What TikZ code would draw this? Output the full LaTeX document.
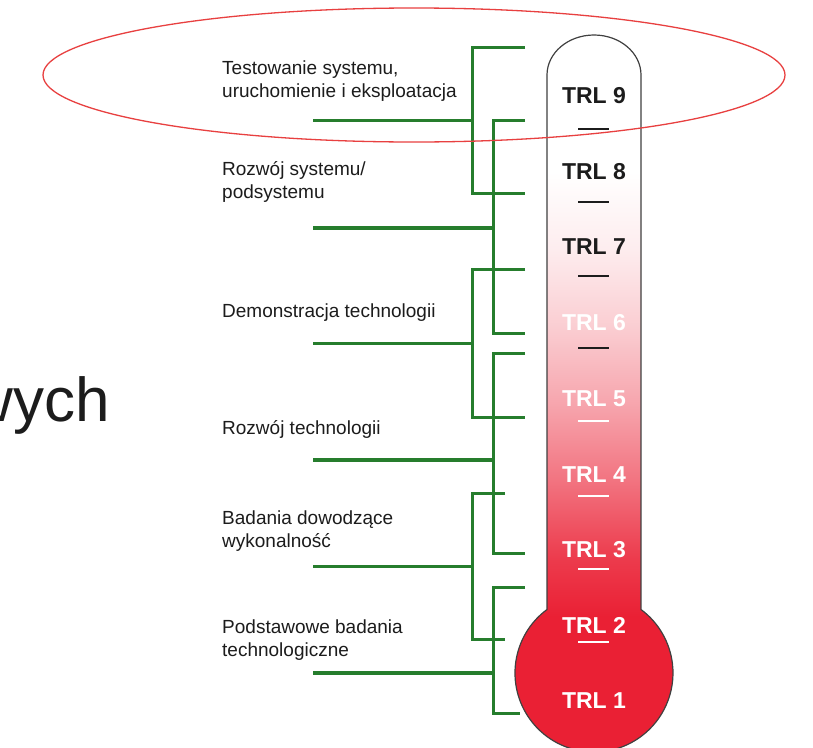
\documentclass[tikz,border=0pt]{standalone}
\usepackage{fontspec}
\setmainfont{Liberation Sans}
\usepackage{tikz}
\usetikzlibrary{calc}
\definecolor{trlgreen}{RGB}{38,125,45}
\definecolor{trlred}{RGB}{234,32,52}
\definecolor{ovalred}{RGB}{232,64,64}
\definecolor{ink}{RGB}{28,28,28}
\colorlet{redA}{trlred!88!white}
\colorlet{redB}{trlred!62!white}
\colorlet{redC}{trlred!40!white}
\colorlet{redD}{trlred!22!white}
\colorlet{redE}{trlred!8!white}
\pgfdeclareverticalshading{tubefill}{100bp}{color(0bp)=(trlred); color(35bp)=(trlred); color(39bp)=(redA);
  color(44.5bp)=(redB); color(49.7bp)=(redC); color(55bp)=(redD); color(60.4bp)=(redE); color(65.6bp)=(white); color(100bp)=(white)}
\newcommand\lblfont{\fontsize{19}{22.5}\selectfont}
\newcommand\trlfont{\fontsize{23}{27}\selectfont\bfseries}
\tikzset{
  lbl/.style={font=\lblfont,text=ink,align=left,anchor=base west,inner sep=0pt},
  trl/.style={font=\trlfont,anchor=base,inner sep=0pt},
  brk/.style={draw=trlgreen,line width=3pt},
  tickmark/.style={line width=2.5pt},
  oval/.style={draw=ovalred,line width=1.3pt},
}

\begin{document}
\begin{tikzpicture}[x=1pt,y=-1pt]
  \useasboundingbox (0,0) rectangle (813,747);
  \clip (0,0) rectangle (813,747);
  \fill[white] (0,0) rectangle (813,747);
  % cut-off slide title
  \node[font=\fontsize{62}{70}\selectfont,text=ink,anchor=base east,inner sep=0pt] (title) at (110,421) {wych};
  % thermometer
  \shade[shading=tubefill,draw=black!75,line width=1.2pt]
    (547,75) -- (547,609.5) arc[start angle=233.5,end angle=-53.5,radius=79] -- (641,75)
    arc[start angle=0,end angle=-180,x radius=47,y radius=40] -- cycle;
  \foreach \i/\y/\c in {9/103/ink, 8/179/ink, 7/254/ink, 6/330/white, 5/406/white, 4/482/white, 3/557/white, 2/633/white, 1/708/white}
    \node[trl,text=\c] (trl\i) at (594,\y) {TRL \i};
  \foreach \y/\c in {129/ink, 202/ink, 276/ink, 348/ink, 421/white, 496/white, 569/white, 642/white}
    \draw[tickmark,\c] (578,\y) -- (609,\y);
  % brackets
  \foreach \n/\xv/\yt/\yb/\ys/\et/\eb/\sw in {1/472/47/193/120/525/525/3, 2/493/120/333/228/525/525/4.5, 3/472/269/417/343/525/525/3,
                                          4/493/353/553/460/525/525/4, 5/472/493/639/566/505/505/3, 6/493/587/713/673/525/520/4.5}{
    \coordinate (top\n) at (\et,\yt); \coordinate (bot\n) at (\eb,\yb);
    \coordinate (knee\n) at (\xv,\ys); \coordinate (stem\n) at (313,\ys);
    \draw[brk] (top\n) -| (knee\n) |- (bot\n);
    \draw[brk,line width=\sw pt] (stem\n) -- (knee\n);}
  % labels (base = last line)
  \node[lbl] (lab1) at (222,97) {Testowanie systemu,\\uruchomienie i eksploatacja};
  \node[lbl] (lab2) at (222,198) {Rozwój systemu/\\podsystemu};
  \node[lbl] (lab3) at (222,317) {Demonstracja technologii};
  \node[lbl] (lab4) at (222,434) {Rozwój technologii};
  \node[lbl] (lab5) at (222,547) {Badania dowodzące\\wykonalność};
  \node[lbl] (lab6) at (222,656) {Podstawowe badania\\technologiczne};
  \draw[oval] (414,75) ellipse [x radius=371,y radius=67];
\end{tikzpicture}
\end{document}
